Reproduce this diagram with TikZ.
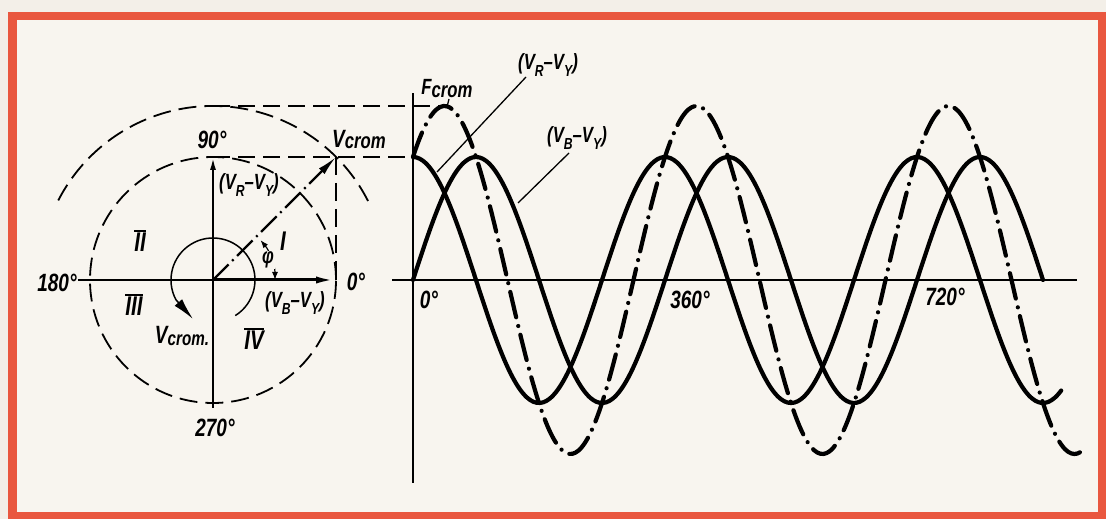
\documentclass[tikz,border=0pt]{standalone}
\usepackage{fontspec}
\setmainfont{Liberation Sans}[FakeStretch=0.76]
\usetikzlibrary{arrows.meta}
\definecolor{paper}{HTML}{F3EFE8}
\definecolor{innerbg}{HTML}{F8F5EF}
\definecolor{framered}{HTML}{E9573F}
\newcommand\sub[1]{\raisebox{-0.33em}{\fontsize{16}{16}\selectfont #1}}
\newcommand\rom[1]{\setbox0=\hbox{\fontsize{27}{27}\selectfont #1}\vbox{\hrule height 2pt width \wd0 \kern0.3pt\box0\kern0.3pt\hrule height 2pt width \wd0}}
\begin{document}
\begin{tikzpicture}[x=1pt,y=1pt,
  lab/.style={font=\bfseries\itshape\fontsize{25}{25}\selectfont, inner sep=0pt},
  slab/.style={font=\bfseries\itshape\fontsize{22}{22}\selectfont, inner sep=0pt},
  wave/.style={line width=4.2pt, line cap=round, line join=round},
  fwave/.style={wave, dash pattern=on 26pt off 9pt on 0pt off 9pt},
  dsh/.style={line width=1.8pt, dash pattern=on 18pt off 8pt},
  hdsh/.style={line width=1.8pt, dash pattern=on 17pt off 8pt},
  ax/.style={line width=1.8pt},
  lead/.style={line width=1.3pt}]
\useasboundingbox (0,0) rectangle (1106,519);
\fill[paper] (0,0) rectangle (1106,519);
\draw[framered, line width=8.5pt, fill=innerbg] (12.5,3) rectangle (1102,503);

% ---------- phasor diagram ----------
\coordinate (C) at (213,239);
\coordinate (T) at (336,362);
\coordinate (E) at (336,239);
\coordinate (W) at (78,239);
\coordinate (N) at (213,362);
\coordinate (S) at (213,111);
\coordinate (OT) at (213,413);
\coordinate (F0) at (336,239);

\draw[dsh] (C) circle[radius=123];
\coordinate (OA) at ([shift={(27:174)}]C);
\draw[dsh] (OA) arc[start angle=27, end angle=153, radius=174];

\draw[ax] (W) -- (C);
\draw[ax] (S) -- (C);
\draw[line width=3pt, -{Latex[length=20pt,width=7pt]}] (C) -- (E);
\draw[line width=2.2pt, -{Latex[length=13pt,width=6pt]}] (C) -- (N);
\draw[line width=2.2pt, dash pattern=on 22pt off 5pt on 2pt off 5pt, -{Latex[length=20pt,width=8pt]}] (C) -- (T);
\draw[dsh] (T) -- (F0);

% rotation arc
\coordinate (R0) at ([shift={(-58:42)}]C);
\coordinate (RA) at ([shift={(208:42)}]C);
\coordinate (RT) at (193,200);
\draw[line width=1.5pt] (R0) arc[start angle=-58, end angle=208, radius=42];
\draw[line width=1.5pt, -{Latex[length=22pt,width=10pt]}] (RA) -- (RT);
% phi arc
\coordinate (P0) at ([shift={(0:62)}]C);
\draw[line width=1.2pt, {Latex[length=8pt,width=6pt]}-{Latex[length=8pt,width=6pt]}] (P0) arc[start angle=0, end angle=40, radius=62];

% ---------- waveform diagram ----------
\coordinate (XA) at (392,239);
\coordinate (XB) at (1077,239);
\coordinate (YA) at (413,36);
\coordinate (YB) at (413,426);
\coordinate (FP) at (444,413);
\coordinate (RP) at (419,362);
\draw[ax] (XA) -- (XB);
\draw[ax] (YA) -- (YB);
\draw[hdsh] (OT) -- (FP);
\draw[hdsh] (N) -- (RP);

\draw[wave] plot[domain=0:900, samples=200, smooth] ({413+0.7*\x},{239+123*sin(\x)});
\draw[wave] plot[domain=0:926, samples=200, smooth] ({413+0.7*\x},{239+123*cos(\x)});
\draw[fwave] plot[domain=0:958, samples=220, smooth] ({413+0.7*\x},{239+174*sin(\x+45)});

% ---------- labels ----------
\node[lab] (l90) at (212,379) {90°};
\node[lab] (lvc) at (359,379) {V\raisebox{-1pt}{\fontsize{22}{22}\selectfont crom}};
\node[slab] (lvr) at (249,334) {(V\sub{R}–V\sub{Y})};
\node[lab] (q1) at (283,278) {\fontsize{27}{27}\selectfont I};
\node[lab] (q2) at (140,277) {\rom{II}};
\node[lab] (q3) at (134,213) {\rom{III}};
\node[lab] (q4) at (254,179) {\rom{IV}};
\node[slab] (lvb) at (295,216) {(V\sub{B}–V\sub{Y})};
\node[lab] (l0) at (356,237) {0°};
\node[lab] (l180) at (57,236) {180°};
\node[lab] (l270) at (215,91) {270°};
\node[lab] (lvcr) at (182,183) {V\raisebox{-2pt}{\fontsize{20}{20}\selectfont crom.}};
\node[slab, fill=innerbg, inner sep=1pt] (phi) at (268,259) {φ};

\node[slab] (lf) at (447,430) {F\raisebox{-3pt}{crom}};
\node[slab] (wr) at (548,454) {(V\sub{R}–V\sub{Y})};
\node[slab] (wb) at (577,381) {(V\sub{B}–V\sub{Y})};
\node[lab] (r0) at (429,219) {0°};
\node[lab] (r360) at (690,219) {360°};
\node[lab] (r720) at (945,222) {720°};

\coordinate (wrE) at (437,347);
\coordinate (wbE) at (518,316);
\coordinate (lfE) at (447,412);
\draw[lead] ([shift={(-22,-12)}]wr.center) -- (wrE);
\draw[lead] ([shift={(-8,-15)}]wb.center) -- (wbE);
\draw[lead] ([shift={(2,-10)}]lf.center) -- (lfE);
\end{tikzpicture}
\end{document}
